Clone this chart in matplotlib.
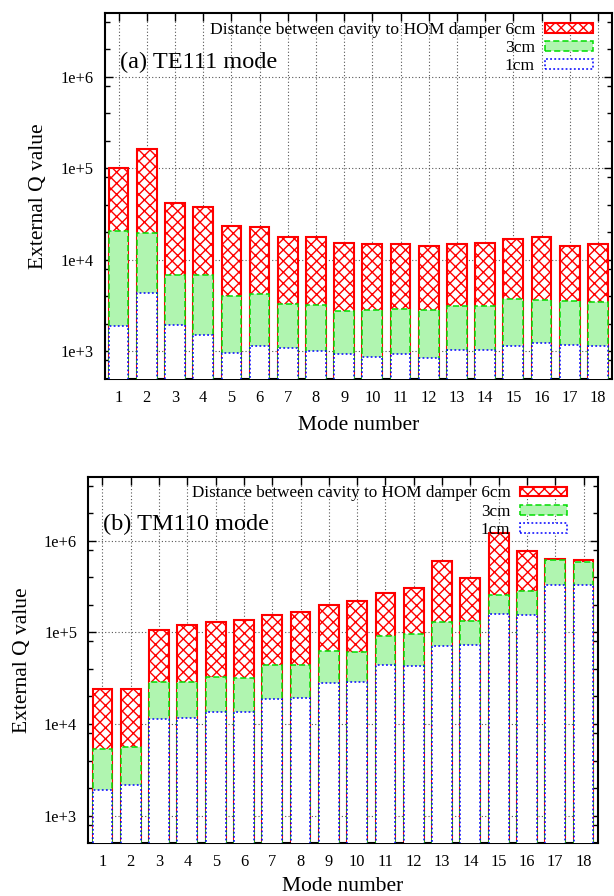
import matplotlib
matplotlib.use("Agg")
import matplotlib.pyplot as plt
from matplotlib.patches import Patch
from matplotlib.ticker import LogLocator, FixedLocator, NullFormatter
import numpy as np

plt.rcParams['font.family'] = ['Liberation Serif', 'DejaVu Serif']
plt.rcParams['hatch.linewidth'] = 1.0
plt.rcParams['hatch.color'] = 'red'

modes = list(range(1, 19))

# (a) TE111 mode
te_6cm = [1.0e5, 1.63e5, 4.2e4, 3.8e4, 2.37e4, 2.31e4, 1.79e4, 1.78e4, 1.54e4,
          1.49e4, 1.49e4, 1.43e4, 1.5e4, 1.54e4, 1.69e4, 1.78e4, 1.43e4, 1.5e4]
te_3cm = [2.08e4, 1.98e4, 6.9e3, 6.8e3, 4.03e3, 4.24e3, 3.3e3, 3.24e3, 2.78e3,
          2.86e3, 2.88e3, 2.86e3, 3.13e3, 3.13e3, 3.7e3, 3.67e3, 3.6e3, 3.47e3]
te_1cm = [1.92e3, 4.35e3, 1.94e3, 1.52e3, 0.96e3, 1.15e3, 1.1e3, 1.02e3, 0.93e3,
          0.88e3, 0.93e3, 0.85e3, 1.04e3, 1.04e3, 1.16e3, 1.24e3, 1.18e3, 1.15e3]

# (b) TM110 mode
tm_6cm = [2.4e4, 2.41e4, 1.06e5, 1.21e5, 1.3e5, 1.35e5, 1.56e5, 1.66e5, 1.97e5,
          2.2e5, 2.69e5, 3.02e5, 5.95e5, 3.88e5, 1.23e6, 7.64e5, 6.35e5, 6.1e5]
tm_3cm = [5.33e3, 5.6e3, 2.88e4, 2.86e4, 3.24e4, 3.16e4, 4.39e4, 4.39e4, 6.32e4,
          6.12e4, 9.08e4, 9.6e4, 1.3e5, 1.33e5, 2.55e5, 2.84e5, 6.15e5, 5.85e5]
tm_1cm = [1.9e3, 2.16e3, 1.13e4, 1.17e4, 1.35e4, 1.36e4, 1.87e4, 1.93e4, 2.79e4,
          2.86e4, 4.41e4, 4.33e4, 7.1e4, 7.3e4, 1.57e5, 1.54e5, 3.26e5, 3.26e5]

labels = ["Distance between cavity to HOM damper 6cm", "3cm", "1cm"]
ytick_vals = [1e3, 1e4, 1e5, 1e6]
ytick_labels = ["1e+3", "1e+4", "1e+5", "1e+6"]

RED = '#ff0000'
GREEN = '#00dd00'
LGREEN = '#b0f5b0'
BLUE = '#0000ff'

fig = plt.figure(figsize=(6.14, 8.96), dpi=100)
W, H = 614, 896

def ax_rect(l, t, r, b):
    return [l / W, 1 - b / H, (r - l) / W, (b - t) / H]

ax1 = fig.add_axes(ax_rect(104.5, 13, 612, 379))
ax2 = fig.add_axes(ax_rect(88.3, 476.7, 597.7, 843.3))

def draw(ax, v6, v3, v1, title, leg_anchor, leg_fs, title_xy, ylabelpad, xlabelpad):
    x = np.array(modes)
    w = 0.7
    base = 100
    ax.bar(x, np.array(v6) - base, bottom=base, width=w, facecolor='white',
           edgecolor=RED, hatch='xxx', linewidth=1.5, zorder=2)
    ax.bar(x, np.array(v3) - base, bottom=base, width=w, facecolor=LGREEN,
           edgecolor=GREEN, linestyle=(0, (4, 2)), linewidth=1.1, zorder=3)
    ax.bar(x, np.array(v1) - base, bottom=base, width=w, facecolor='white',
           edgecolor=BLUE, linestyle=(0, (1.2, 1.5)), linewidth=1.1, zorder=4)
    ax.set_yscale('log')
    ax.set_ylim(500, 5e6)
    ax.set_xlim(0.5, 18.5)
    ax.set_xticks(modes)
    ax.set_xticklabels([str(m) for m in modes])
    ax.yaxis.set_major_locator(FixedLocator(ytick_vals))
    ax.set_yticklabels(ytick_labels)
    ax.yaxis.set_minor_locator(LogLocator(base=10, subs=(2, 4, 8)))
    ax.yaxis.set_minor_formatter(NullFormatter())
    ax.tick_params(axis='both', which='both', direction='in', top=True, right=True)
    ax.tick_params(axis='both', which='major', length=6, width=1.0, labelsize=11.8)
    ax.tick_params(axis='y', which='major', pad=8)
    ax.tick_params(axis='x', which='major', pad=8)
    ax.tick_params(axis='y', which='minor', length=3.5, width=1.0)
    for s in ax.spines.values():
        s.set_linewidth(1.5)
    ax.set_axisbelow(True)
    ax.grid(True, which='major', color='#555555', linestyle=(0, (1, 2)), linewidth=0.8)
    ax.set_xlabel("Mode number", fontsize=15.5, labelpad=xlabelpad)
    ax.set_ylabel("External Q value", fontsize=15.5, labelpad=ylabelpad)
    ax.text(title_xy[0], title_xy[1], title, transform=ax.transAxes,
            fontsize=17.5, ha='left', va='center', zorder=6)
    handles = [
        Patch(facecolor='white', edgecolor=RED, hatch='xxx', linewidth=1.5),
        Patch(facecolor=LGREEN, edgecolor=GREEN, linestyle=(0, (4, 2)), linewidth=1.1),
        Patch(facecolor='white', edgecolor=BLUE, linestyle=(0, (1.2, 1.5)), linewidth=1.1),
    ]
    leg = ax.legend(handles, labels, loc='upper right', bbox_to_anchor=leg_anchor,
                    frameon=False, markerfirst=False, fontsize=leg_fs,
                    handlelength=2.75, handleheight=0.5, handletextpad=0.55,
                    labelspacing=0.13, borderaxespad=0, borderpad=0)
    leg.set_zorder(7)

draw(ax1, te_6cm, te_3cm, te_1cm, "(a) TE111 mode", (0.962, 0.976), 12.6, (0.03, 0.865), 9, 7)
draw(ax2, tm_6cm, tm_3cm, tm_1cm, "(b) TM110 mode", (0.939, 0.976), 12.3, (0.028, 0.87), 9, 5)

fig.savefig("out.png", dpi=100)
